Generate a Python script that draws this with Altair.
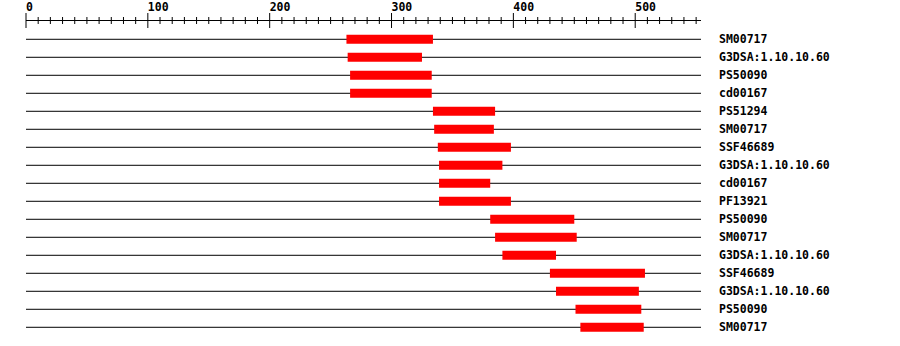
import altair as alt
import pandas as pd

SEQ_LEN = 554
labels = ["SM00717", "G3DSA:1.10.10.60", "PS50090", "cd00167", "PS51294",
          "SM00717", "SSF46689", "G3DSA:1.10.10.60", "cd00167", "PF13921",
          "PS50090", "SM00717", "G3DSA:1.10.10.60", "SSF46689",
          "G3DSA:1.10.10.60", "PS50090", "SM00717"]
starts = [263, 264, 266, 266, 334, 335, 338, 339, 339, 339,
          381, 385, 391, 430, 435, 451, 455]
ends = [334, 325, 333, 333, 385, 384, 398, 391, 381, 398,
        450, 452, 435, 508, 503, 505, 507]
major_ticks = [0, 100, 200, 300, 400, 500]
minor_ticks = [v for v in range(10, 551, 10) if v % 100 != 0]

rows = pd.DataFrame({"row": list(range(len(labels))), "label": labels,
                     "start": starts, "end": ends})
major = pd.DataFrame({"t": major_ticks, "lab": [str(v) for v in major_ticks]})
minor = pd.DataFrame({"t": minor_ticks})

W = 675
xs = alt.Scale(domain=[0, SEQ_LEN], range=[0, W], nice=False, zero=False, padding=0)
ys = alt.Scale(domain=[-1.072, 16.928], range=[0, 324], nice=False, zero=False, padding=0)
FONT = "DejaVu Sans Mono"

base = alt.Chart(rows)

lines = base.mark_rule(color="black", strokeWidth=1).encode(
    x=alt.X("xs:Q", scale=xs, axis=None), x2="xe:Q",
    y=alt.Y("row:Q", scale=ys, axis=None),
).transform_calculate(xs="0", xe=str(SEQ_LEN))

bars = base.mark_bar(color="#ff0000", size=9).encode(
    x=alt.X("start:Q", scale=xs, axis=None), x2="end:Q",
    y=alt.Y("row:Q", scale=ys, axis=None),
)

row_text = base.mark_text(align="left", baseline="alphabetic", dy=4,
                          font=FONT, fontWeight="bold", fontSize=11.5,
                          color="black").encode(
    x=alt.value(693),
    y=alt.Y("row:Q", scale=ys, axis=None),
    text="label:N",
)

axis_line = alt.Chart(major).mark_rule(color="black", strokeWidth=1).encode(
    x=alt.X("a:Q", scale=xs, axis=None), x2="b:Q", y=alt.value(0.5),
).transform_calculate(a="0", b=str(SEQ_LEN)).transform_filter("datum.t == 0")

major_rules = alt.Chart(major).mark_rule(color="black", strokeWidth=1).encode(
    x=alt.X("t:Q", scale=xs, axis=None), y=alt.value(-7), y2=alt.value(8),
)
minor_rules = alt.Chart(minor).mark_rule(color="black", strokeWidth=1).encode(
    x=alt.X("t:Q", scale=xs, axis=None), y=alt.value(-3), y2=alt.value(4),
)
major_text = alt.Chart(major).mark_text(align="left", baseline="alphabetic",
                                         font=FONT, fontWeight="bold",
                                         fontSize=11.5, color="black").encode(
    x=alt.X("t:Q", scale=xs, axis=None), y=alt.value(-9), text="lab:N",
)

chart = alt.layer(lines, bars, row_text, axis_line, major_rules, minor_rules,
                  major_text).properties(
    width=W, height=324,
    autosize=alt.AutoSizeParams(type="none"),
    padding={"left": 26, "top": 20, "right": 199, "bottom": 2},
    background="white",
).configure_view(stroke=None)

chart.save("out.html", embed_options={"renderer": "svg", "actions": False})
